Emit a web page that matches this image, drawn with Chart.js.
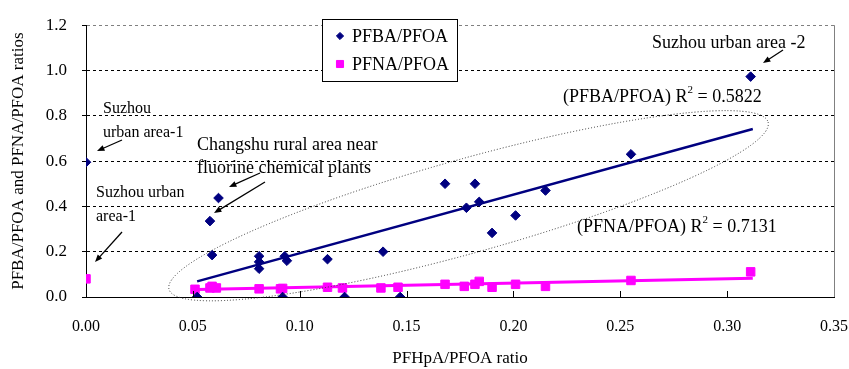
<!DOCTYPE html>
<html>
<head>
<meta charset="utf-8">
<script src="https://cdn.jsdelivr.net/npm/chart.js@4.4.7/dist/chart.umd.min.js"></script>
<style>
  html, body { margin: 0; padding: 0; background: #fff; }
  #wrap { width: 849px; height: 369px; position: relative; }
</style>
</head>
<body>
<div id="wrap"><canvas id="chart"></canvas></div>
<script>
// PFHpA/PFOA ratio (x) vs PFBA/PFOA and PFNA/PFOA (y)
const pfbaX = [0.000, 0.052, 0.058, 0.059, 0.062, 0.081, 0.081, 0.081, 0.092, 0.093, 0.094, 0.113,
               0.121, 0.139, 0.147, 0.168, 0.178, 0.182, 0.184, 0.190, 0.201, 0.215, 0.255, 0.311];
const pfbaY = [0.595, 0.000, 0.335, 0.185, 0.437, 0.180, 0.155, 0.125, 0.000, 0.180, 0.160, 0.167,
               0.000, 0.200, 0.000, 0.500, 0.394, 0.500, 0.420, 0.283, 0.360, 0.470, 0.630, 0.973];

const pfnaX = [0.000, 0.051, 0.058, 0.059, 0.061, 0.081, 0.091, 0.092, 0.113, 0.120, 0.138,
               0.146, 0.168, 0.177, 0.182, 0.184, 0.190, 0.201, 0.215, 0.255, 0.311];
const pfnaY = [0.080, 0.034, 0.040, 0.047, 0.040, 0.036, 0.036, 0.038, 0.043, 0.040, 0.040,
               0.043, 0.056, 0.047, 0.056, 0.069, 0.043, 0.056, 0.047, 0.073, 0.111];

// trend lines (end points)
const trendX = [0.052, 0.312];
const pfbaTrendY = [0.069, 0.742];
const pfnaTrendY = [0.033, 0.083];

const xTicks = [0, 0.05, 0.10, 0.15, 0.20, 0.25, 0.30, 0.35];
const yTicks = [0, 0.2, 0.4, 0.6, 0.8, 1.0, 1.2];

const NAVY = "#000080";
const MAGENTA = "#ff00ff";
const FONT = "'Liberation Serif', 'Times New Roman', serif";

const zip = (xs, ys) => xs.map((x, i) => ({ x, y: ys[i] }));

// ── decorations: text, arrows, ellipse, legend ──
const notes = [
    { text: "Suzhou urban area -2", x: 652, y: 43, size: 18 },
    { text: "Suzhou", x: 103, y: 109, size: 16 },
    { text: "urban area-1", x: 103, y: 133, size: 16 },
    { text: "Changshu rural area near", x: 197, y: 145, size: 18 },
    { text: "fluorine chemical plants", x: 197, y: 168, size: 18 },
    { text: "Suzhou urban", x: 96, y: 193, size: 16 },
    { text: "area-1", x: 96, y: 217, size: 16 },
];
const arrows = [
    [783, 50, 763, 63],
    [122, 140, 97, 151],
    [260, 173, 229, 187],
    [265, 182, 214, 213],
    [122, 232, 95, 262],
];
const r2Notes = [
    { label: "(PFBA/PFOA) R", val: " = 0.5822", x: 563, y: 97 },
    { label: "(PFNA/PFOA) R", val: " = 0.7131", x: 577, y: 227 },
];

function drawArrow(ctx, x1, y1, x2, y2) {
    const a = Math.atan2(y2 - y1, x2 - x1);
    const h = 8;
    ctx.beginPath();
    ctx.moveTo(x1, y1);
    ctx.lineTo(x2 - Math.cos(a) * h * 0.7, y2 - Math.sin(a) * h * 0.7);
    ctx.stroke();
    ctx.beginPath();
    ctx.moveTo(x2, y2);
    ctx.lineTo(x2 - h * Math.cos(a - 0.38), y2 - h * Math.sin(a - 0.38));
    ctx.lineTo(x2 - h * Math.cos(a + 0.38), y2 - h * Math.sin(a + 0.38));
    ctx.closePath();
    ctx.fill();
}

const decorPlugin = {
    id: "decor",
    afterDraw(chart) {
        const ctx = chart.ctx;
        const { left, right, top, bottom } = chart.chartArea;
        const xs = chart.scales.x;
        ctx.save();

        // right frame
        ctx.strokeStyle = "#808080";
        ctx.lineWidth = 1;
        ctx.beginPath();
        ctx.moveTo(right + 0.5, top);
        ctx.lineTo(right + 0.5, bottom);
        ctx.stroke();

        // inward x ticks
        ctx.strokeStyle = "#000";
        xTicks.slice(1, -1).forEach(v => {
            const px = Math.round(xs.getPixelForValue(v)) + 0.5;
            ctx.beginPath();
            ctx.moveTo(px, bottom);
            ctx.lineTo(px, bottom - 6);
            ctx.stroke();
        });

        // dotted ellipse around the cluster
        ctx.strokeStyle = "#333";
        ctx.lineWidth = 1;
        ctx.setLineDash([1, 2]);
        ctx.beginPath();
        ctx.ellipse(xs.getPixelForValue(0.179), chart.scales.y.getPixelForValue(0.403),
                    311, 47, -15.6 * Math.PI / 180, 0, Math.PI * 2);
        ctx.stroke();
        ctx.setLineDash([]);

        // texts
        ctx.fillStyle = "#000";
        ctx.textBaseline = "middle";
        ctx.textAlign = "left";
        notes.forEach(n => {
            ctx.font = `${n.size}px ${FONT}`;
            ctx.fillText(n.text, n.x, n.y);
        });
        r2Notes.forEach(n => {
            ctx.font = `18px ${FONT}`;
            ctx.fillText(n.label, n.x, n.y);
            let w = ctx.measureText(n.label).width;
            ctx.font = `11px ${FONT}`;
            ctx.fillText("2", n.x + w, n.y - 7);
            w += ctx.measureText("2").width;
            ctx.font = `18px ${FONT}`;
            ctx.fillText(n.val, n.x + w, n.y);
        });

        // arrows
        ctx.strokeStyle = "#000";
        ctx.lineWidth = 1.3;
        arrows.forEach(a => drawArrow(ctx, ...a));

        // legend box
        ctx.fillStyle = "#fff";
        ctx.fillRect(322, 19, 135, 62);
        ctx.strokeStyle = "#000";
        ctx.lineWidth = 1;
        ctx.strokeRect(322.5, 19.5, 135, 62);
        const items = [
            { label: "PFBA/PFOA", color: NAVY, style: "rectRot", r: 3.6, y: 36 },
            { label: "PFNA/PFOA", color: MAGENTA, style: "rect", r: 5, y: 64 },
        ];
        items.forEach(it => {
            ctx.fillStyle = it.color;
            ctx.strokeStyle = it.color;
            Chart.helpers.drawPoint(ctx, { pointStyle: it.style, radius: it.r, borderWidth: 1 }, 340, it.y);
            ctx.fillStyle = "#000";
            ctx.font = `18px ${FONT}`;
            ctx.fillText(it.label, 352, it.y + 1);
        });
        ctx.restore();
    },
};

new Chart(document.getElementById("chart"), {
    type: "scatter",
    data: {
        datasets: [
            {
                label: "PFBA/PFOA",
                data: zip(pfbaX, pfbaY),
                pointStyle: "rectRot",
                pointRadius: 4.8,
                backgroundColor: NAVY,
                borderColor: NAVY,
                borderWidth: 1,
                order: 1,
            },
            {
                label: "PFNA/PFOA",
                data: zip(pfnaX, pfnaY),
                pointStyle: "rect",
                pointRadius: 6,
                backgroundColor: MAGENTA,
                borderColor: MAGENTA,
                borderWidth: 1,
                order: 1,
            },
            {
                label: "PFBA trend",
                data: zip(trendX, pfbaTrendY),
                showLine: true,
                pointRadius: 0,
                borderColor: NAVY,
                borderWidth: 2.5,
                order: 2,
            },
            {
                label: "PFNA trend",
                data: zip(trendX, pfnaTrendY),
                showLine: true,
                pointRadius: 0,
                borderColor: MAGENTA,
                borderWidth: 3,
                order: 2,
            },
        ],
    },
    options: {
        responsive: true,
        maintainAspectRatio: false,
        animation: false,
        layout: { padding: { left: 0, right: 15, top: 15, bottom: 0 } },
        plugins: { legend: { display: false }, tooltip: { enabled: false } },
        scales: {
            x: {
                type: "linear",
                min: 0,
                max: 0.35,
                afterBuildTicks: (s) => { s.ticks = xTicks.map(v => ({ value: v })); },
                afterFit: (s) => { s.height = 72; s.paddingLeft = 0; s.paddingRight = 0; },
                ticks: {
                    padding: 20,
                    color: "#000",
                    font: { family: FONT, size: 16 },
                    maxRotation: 0,
                    callback: (v) => Number(v).toFixed(2),
                },
                grid: { display: false, drawTicks: false },
                border: { display: true, color: "#000", width: 1 },
                title: {
                    display: true,
                    text: "PFHpA/PFOA ratio",
                    color: "#000",
                    font: { family: FONT, size: 17 },
                    padding: { top: 4, bottom: 0 },
                },
            },
            y: {
                type: "linear",
                min: 0,
                max: 1.2,
                afterBuildTicks: (s) => { s.ticks = yTicks.map(v => ({ value: v })); },
                afterFit: (s) => { s.width = 86; },
                ticks: {
                    padding: 15,
                    color: "#000",
                    font: { family: FONT, size: 17 },
                    callback: (v) => Number(v).toFixed(1),
                },
                grid: {
                    color: (c) => (c.tick && c.tick.value >= 1.19 ? "#808080" : "#000"),
                    lineWidth: 1,
                    drawTicks: true,
                    tickLength: 4,
                    tickColor: "#000",
                    tickBorderDash: [],
                },
                border: { display: true, color: "#000", width: 1, dash: [3, 3] },
                title: {
                    display: true,
                    text: "PFBA/PFOA and PFNA/PFOA ratios",
                    color: "#000",
                    font: { family: FONT, size: 17 },
                    padding: { top: 8, bottom: 4 },
                },
            },
        },
    },
    plugins: [decorPlugin],
});
</script>
</body>
</html>
